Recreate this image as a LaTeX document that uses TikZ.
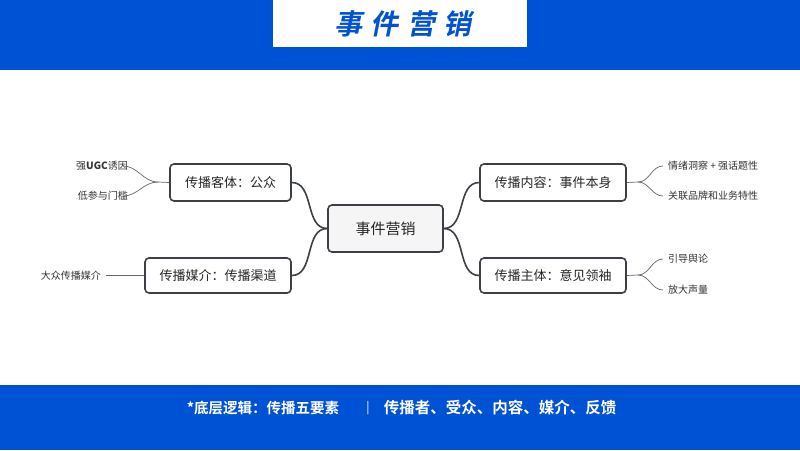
\documentclass[tikz,border=0pt]{standalone}
\usepackage{fontspec}
\setmainfont{Noto Sans CJK SC}
\newfontfamily\cjkb{Noto Sans CJK SC Bold}
\definecolor{bandblue}{HTML}{0052D4}
\definecolor{edge}{HTML}{3C4046}
\definecolor{leaftxt}{HTML}{333333}
\tikzset{
  topic/.style={draw=edge,line width=1.6pt,rounded corners=4pt,fill=white,text=black!85,font=\fontsize{13}{15}\selectfont,inner sep=0pt},
  leaf/.style={font=\fontsize{10}{12}\selectfont,text=leaftxt,inner sep=0pt},
  conn/.style={draw=edge,line width=1.6pt},
  thin/.style={draw=edge!80,line width=0.7pt}
}
\begin{document}
\begin{tikzpicture}[x=1pt,y=-1pt]
\useasboundingbox (0,0) rectangle (800,450);
\fill[white] (0,0) rectangle (800,450);
\fill[bandblue] (0,0) rectangle (800,70);
\fill[white] (273,0) rectangle (527,47);
\node (title) at (403,24) {\cjkb\fontsize{28}{32}\selectfont\color{bandblue}\addfontfeature{FakeSlant=0.2,LetterSpace=30}事件营销};
\fill[bandblue] (0,385) rectangle (800,450);
\node[text=white,font=\cjkb\fontsize{14.5}{17}\selectfont] (foot1) at (263,408) {*底层逻辑：传播五要素};
\node[text=white,font=\fontsize{12}{14}\selectfont] (bar) at (368,408) {|};
\node[text=white,font=\cjkb\fontsize{15.5}{18}\selectfont] (foot2) at (500,408) {传播者、受众、内容、媒介、反馈};

\node[topic,fill=black!4,minimum width=115pt,minimum height=47pt,font=\fontsize{15}{17}\selectfont] (c) at (385.5,228.5) {事件营销};
\node[topic,minimum width=121pt,minimum height=37pt] (lt) at (230.5,182.5) {传播客体：公众};
\node[topic,minimum width=146pt,minimum height=35pt] (lb) at (218,275.5) {传播媒介：传播渠道};
\node[topic,minimum width=146pt,minimum height=37pt] (rt) at (553,182.5) {传播内容：事件本身};
\node[topic,minimum width=146pt,minimum height=35pt] (rb) at (553,275.5) {传播主体：意见领袖};

\draw[conn] (lt.east) to[out=0,in=180] (c.west);
\draw[conn] (lb.east) to[out=0,in=180] (c.west);
\draw[conn] (rt.west) to[out=180,in=0] (c.east);
\draw[conn] (rb.west) to[out=180,in=0] (c.east);

\node[leaf,anchor=east] (l1) at (128,166) {强\textbf{UGC}诱因};
\node[leaf,anchor=east] (l2) at (128,196) {低参与门槛};
\node[leaf,anchor=east] (l3) at (101,275.5) {大众传播媒介};
\node[leaf,anchor=west] (r1) at (668,166) {情绪洞察 + 强话题性};
\node[leaf,anchor=west] (r2) at (668,196) {关联品牌和业务特性};
\node[leaf,anchor=west] (r3) at (668,259) {引导舆论};
\node[leaf,anchor=west] (r4) at (668,290) {放大声量};

\coordinate (fl) at (158,182);
\coordinate (fr) at (638,182);
\coordinate (fr2) at (638,275);
\draw[thin] (lt.west) -- (fl);
\draw[thin] (fl) to[out=180,in=0] ([xshift=-5pt]l1.east);
\draw[thin] (fl) to[out=180,in=0] ([xshift=-5pt]l2.east);
\draw[thin] (lb.west) -- ([xshift=5pt]l3.east);
\draw[thin] (rt.east) -- (fr);
\draw[thin] (fr) to[out=0,in=180] ([xshift=-5pt]r1.west);
\draw[thin] (fr) to[out=0,in=180] ([xshift=-5pt]r2.west);
\draw[thin] (rb.east) -- (fr2);
\draw[thin] (fr2) to[out=0,in=180] ([xshift=-5pt]r3.west);
\draw[thin] (fr2) to[out=0,in=180] ([xshift=-5pt]r4.west);
\end{tikzpicture}
\end{document}
